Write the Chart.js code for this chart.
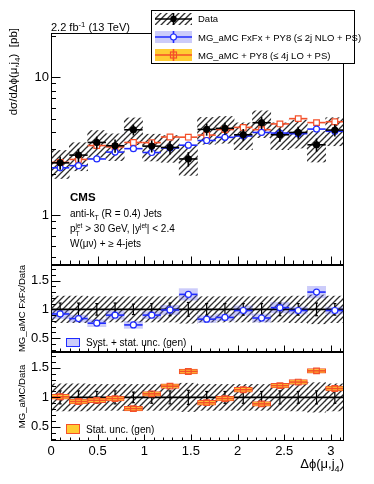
<!DOCTYPE html>
<html>
<head>
<meta charset="utf-8">
<title>dsigma/dDeltaphi(mu,j4)</title>
<script src="https://cdn.jsdelivr.net/npm/chart.js@4.4.0/dist/chart.umd.min.js"></script>
<style>
  body { margin: 0; background: #fff; }
  #wrap { position: relative; width: 374px; height: 484px; }
  #wrap canvas { position: absolute; left: 0; top: 0; }
</style>
</head>
<body>
<div id="wrap">
  <canvas id="main" width="374" height="484"></canvas>
  <canvas id="r1" width="374" height="484"></canvas>
  <canvas id="r2" width="374" height="484"></canvas>
</div>
<script>
var FONT = '"Liberation Sans", Arial, Helvetica, sans-serif';

// 16 bins in delta phi(mu, j4)
var binEdges = [0, 0.196, 0.393, 0.589, 0.785, 0.982, 1.178, 1.374, 1.571, 1.767, 1.963, 2.160, 2.356, 2.553, 2.749, 2.945, 3.1416];
var xTicks = [0, 0.5, 1, 1.5, 2, 2.5, 3];
var yMainTicks = [1, 10];
var yRatioTicks = [0.5, 1, 1.5];

// measured cross section [pb] and relative uncertainties
var dataXs = [2.39, 2.72, 3.36, 3.18, 4.15, 3.16, 3.09, 2.55, 4.18, 4.25, 3.82, 4.67, 3.82, 3.97, 3.23, 4.13];
var dataStat = [0.11, 0.11, 0.10, 0.11, 0.09, 0.10, 0.11, 0.12, 0.10, 0.10, 0.10, 0.10, 0.11, 0.10, 0.11, 0.10];
var dataSyst = [0.23, 0.23, 0.22, 0.22, 0.22, 0.22, 0.22, 0.24, 0.22, 0.22, 0.22, 0.22, 0.22, 0.23, 0.25, 0.23];

// predictions [pb]
var fxfxXs = [2.20, 2.28, 2.55, 2.86, 3.03, 2.84, 3.06, 3.21, 3.47, 3.66, 3.74, 3.97, 3.93, 3.89, 4.20, 4.05];
var loXs = [2.41, 2.53, 3.19, 3.12, 3.36, 3.35, 3.68, 3.67, 3.80, 4.17, 4.32, 4.16, 4.58, 5.00, 4.68, 4.75];

// ratios to data
var fxfxRatio = [0.92, 0.84, 0.76, 0.90, 0.73, 0.90, 0.99, 1.26, 0.83, 0.86, 0.98, 0.85, 1.03, 0.98, 1.30, 0.98];
var fxfxRatioUnc = [0.08, 0.06, 0.06, 0.07, 0.06, 0.06, 0.08, 0.10, 0.06, 0.06, 0.08, 0.07, 0.09, 0.06, 0.10, 0.06];
var loRatio = [1.01, 0.93, 0.95, 0.98, 0.81, 1.06, 1.19, 1.44, 0.91, 0.98, 1.13, 0.89, 1.20, 1.26, 1.45, 1.15];
var loRatioUnc = [0.04, 0.04, 0.04, 0.04, 0.04, 0.04, 0.04, 0.04, 0.04, 0.04, 0.04, 0.04, 0.04, 0.04, 0.04, 0.04];

var BLUE = '#1f2bff', ORANGE = '#f4502a', YELLOW = '#ffcc33', BAND = 'rgba(95,95,240,0.32)';

var centers = binEdges.slice(0, -1).map(function (e, i) { return (e + binEdges[i + 1]) / 2; });
function pts(vals) { return vals.map(function (v, i) { return {x: centers[i], y: v}; }); }
function relBand(vals, rel) { return vals.map(function (v, i) { return {x: centers[i], y: [v * (1 - rel[i]), v * (1 + rel[i])]}; }); }
function absBand(vals, unc) { return vals.map(function (v, i) { return {x: centers[i], y: [v - unc[i], v + unc[i]]}; }); }

function hatch(ctx) {
  var c = document.createElement('canvas');
  c.width = 6; c.height = 6;
  var g = c.getContext('2d');
  g.strokeStyle = '#2e2e2e'; g.lineWidth = 1.3;
  g.beginPath();
  g.moveTo(0, 6); g.lineTo(6, 0);
  g.moveTo(-1, 1); g.lineTo(1, -1);
  g.moveTo(5, 7); g.lineTo(7, 5);
  g.stroke();
  return ctx.createPattern(c, 'repeat');
}

function line(ctx, x1, y1, x2, y2) {
  ctx.beginPath(); ctx.moveTo(x1, y1); ctx.lineTo(x2, y2); ctx.stroke();
}

// text with sub/superscripts: segs = [{t, dy, s, noAdv}]
function richWidth(ctx, segs, size, weight) {
  var w = 0;
  segs.forEach(function (s) {
    ctx.font = (weight || '') + ' ' + size * (s.s || 1) + 'px ' + FONT;
    if (!s.noAdv) w += ctx.measureText(s.t).width;
  });
  return w;
}
function rich(ctx, x, y, segs, size, weight) {
  segs.forEach(function (s) {
    ctx.font = (weight || '') + ' ' + size * (s.s || 1) + 'px ' + FONT;
    ctx.fillText(s.t, x, y + (s.dy || 0) * size);
    if (!s.noAdv) x += ctx.measureText(s.t).width;
  });
}

// error bars and bin-wide horizontal lines, drawn just before the markers
var errBars = {
  id: 'errBars',
  beforeDatasetDraw: function (chart, args) {
    var ds = chart.data.datasets[args.index];
    if (!ds.lineColor) return;
    var ctx = chart.ctx, x = chart.scales.x, y = chart.scales.y;
    ctx.save();
    ctx.strokeStyle = ds.lineColor;
    ctx.lineWidth = ds.lineW;
    ds.data.forEach(function (p, i) {
      var py = y.getPixelForValue(p.y), px = x.getPixelForValue(p.x);
      if (ds.hbar) line(ctx, x.getPixelForValue(binEdges[i]), py, x.getPixelForValue(binEdges[i + 1]), py);
      if (ds.vbar) {
        var lo = y.getPixelForValue(ds.vbar[i][0]), hi = y.getPixelForValue(ds.vbar[i][1]);
        line(ctx, px, lo, px, hi);
        if (ds.cap) { line(ctx, px - ds.cap, lo, px + ds.cap, lo); line(ctx, px - ds.cap, hi, px + ds.cap, hi); }
      }
    });
    ctx.restore();
  }
};

function drawFrame(chart, yMaj, yMin, L) {
  var ctx = chart.ctx, a = chart.chartArea, x = chart.scales.x, y = chart.scales.y;
  ctx.save();
  ctx.strokeStyle = '#000'; ctx.lineWidth = 1;
  var l = Math.round(a.left) + 0.5, r = Math.round(a.right) - 0.5, t = Math.round(a.top) + 0.5, b = Math.round(a.bottom) - 0.5;
  ctx.strokeRect(l, t, r - l, b - t);
  for (var k = 0; k <= 31; k++) {
    var px = Math.round(x.getPixelForValue(k / 10)) + 0.5;
    line(ctx, px, b, px, b - (k % 5 === 0 ? L.xMaj : L.xMin));
  }
  yMaj.forEach(function (v) { var py = Math.round(y.getPixelForValue(v)) + 0.5; line(ctx, l, py, l + L.yMaj, py); });
  yMin.forEach(function (v) { var py = Math.round(y.getPixelForValue(v)) + 0.5; line(ctx, l, py, l + L.yMin, py); });
  ctx.restore();
}

function yAxis(type, min, max, ticks) {
  return {
    type: type, min: min, max: max,
    grid: {display: false, drawTicks: false}, border: {display: false},
    afterFit: function (s) { s.width = 51; },
    afterBuildTicks: function (s) { s.ticks = ticks.map(function (v) { return {value: v}; }); },
    ticks: {font: {family: FONT, size: 13}, color: '#000', padding: 2, callback: function (v) { return String(v); }}
  };
}

function options(top, bottom, yScale, showX) {
  return {
    responsive: false, animation: false, events: [],
    layout: {padding: {left: 0, right: 30, top: top, bottom: bottom}},
    plugins: {legend: {display: false}, tooltip: {enabled: false}},
    scales: {
      x: {
        type: 'linear', min: 0, max: Math.PI, offset: false, display: showX,
        grid: {display: false, drawTicks: false}, border: {display: false},
        afterBuildTicks: function (s) { s.ticks = xTicks.map(function (v) { return {value: v}; }); },
        afterFit: function (s) { s.height = showX ? 43 : 0; },
        ticks: {font: {family: FONT, size: 13}, color: '#000', padding: 3, maxRotation: 0, autoSkip: false,
                callback: function (v) { return String(v); }}
      },
      y: yScale
    }
  };
}

var barOpts = {type: 'bar', grouped: false, barPercentage: 1, categoryPercentage: 1, borderWidth: 0};
function bars(data, bg, order, extra) {
  return Object.assign({}, barOpts, {data: data, backgroundColor: bg, order: order}, extra || {});
}

// ---------- main panel ----------
var mainCtx = document.getElementById('main').getContext('2d');
var mainMinor = [0.5, 0.6, 0.7, 0.8, 0.9, 2, 3, 4, 5, 6, 7, 8, 9, 20];

new Chart(mainCtx, {
  type: 'bar',
  data: {
    datasets: [
      bars(relBand(dataXs, dataSyst), hatch(mainCtx), 10),
      {type: 'scatter', data: pts(loXs), order: 3, pointStyle: 'rect', pointRadius: 4,
       pointBackgroundColor: '#fff', pointBorderColor: ORANGE, pointBorderWidth: 1.2,
       lineColor: ORANGE, lineW: 1.6, hbar: true},
      {type: 'scatter', data: pts(fxfxXs), order: 2, pointStyle: 'circle', pointRadius: 3,
       pointBackgroundColor: '#fff', pointBorderColor: BLUE, pointBorderWidth: 1.2,
       lineColor: BLUE, lineW: 1.6, hbar: true},
      {type: 'scatter', data: pts(dataXs), order: 1, pointStyle: 'circle', pointRadius: 3.2,
       pointBackgroundColor: '#000', pointBorderColor: '#000',
       lineColor: '#000', lineW: 1.6, hbar: true,
       vbar: dataXs.map(function (v, i) { return [v * (1 - dataStat[i]), v * (1 + dataStat[i])]; })}
    ]
  },
  options: options(33, 219, yAxis('logarithmic', 0.434, 20.9, yMainTicks), false),
  plugins: [errBars, {
    id: 'mainDeco',
    afterDraw: function (chart) {
      var ctx = chart.ctx;
      drawFrame(chart, yMainTicks, mainMinor, {xMaj: 8, xMin: 4, yMaj: 9, yMin: 4.5});
      ctx.save();
      ctx.fillStyle = '#000';
      ctx.textBaseline = 'alphabetic';
      rich(ctx, 51, 31, [{t: '2.2 fb'}, {t: '-1', dy: -0.4, s: 0.7}, {t: ' (13 TeV)'}], 11);
      rich(ctx, 70, 201, [{t: 'CMS'}], 11.5, 'bold');
      rich(ctx, 70, 217, [{t: 'anti-k'}, {t: 'T', dy: 0.3, s: 0.7}, {t: ' (R = 0.4) Jets'}], 10);
      rich(ctx, 70, 232, [{t: 'p'}, {t: 'T', dy: 0.35, s: 0.65, noAdv: true}, {t: 'jet', dy: -0.45, s: 0.65},
                          {t: ' > 30 GeV, |y'}, {t: 'jet', dy: -0.45, s: 0.65}, {t: '| < 2.4'}], 10);
      rich(ctx, 70, 247, [{t: 'W(\u03bc\u03bd) + \u2265 4-jets'}], 10);

      // y title, rotated, aligned to the top of the axis
      var ys = [{t: 'd\u03c3/d\u0394\u03d5(\u03bc,j'}, {t: '4', dy: 0.3, s: 0.7}, {t: ')  [pb]'}];
      ctx.save();
      ctx.translate(16.5, 28);
      ctx.rotate(-Math.PI / 2);
      rich(ctx, -richWidth(ctx, ys, 11.5), 0, ys, 11.5);
      ctx.restore();

      // legend
      ctx.fillStyle = '#fff';
      ctx.fillRect(151, 10, 204, 54);
      ctx.strokeStyle = '#000'; ctx.lineWidth = 1;
      ctx.strokeRect(151.5, 10.5, 203, 53);

      ctx.fillStyle = hatch(ctx);
      ctx.fillRect(155, 13, 37, 12);
      ctx.strokeStyle = '#000'; ctx.lineWidth = 1.6;
      line(ctx, 155, 19, 192, 19); line(ctx, 173.5, 13, 173.5, 25);
      ctx.fillStyle = '#000';
      ctx.beginPath(); ctx.arc(173.5, 19, 3.2, 0, 2 * Math.PI); ctx.fill();

      ctx.fillStyle = BAND;
      ctx.fillRect(155, 31, 37, 12);
      ctx.strokeStyle = BLUE; ctx.lineWidth = 1.6;
      line(ctx, 155, 37, 192, 37); line(ctx, 173.5, 31, 173.5, 43);
      ctx.fillStyle = '#fff'; ctx.lineWidth = 1.2;
      ctx.beginPath(); ctx.arc(173.5, 37, 3, 0, 2 * Math.PI); ctx.fill(); ctx.stroke();

      ctx.fillStyle = YELLOW;
      ctx.fillRect(155, 49, 37, 12);
      ctx.strokeStyle = ORANGE; ctx.lineWidth = 1.6;
      line(ctx, 155, 55, 192, 55); line(ctx, 173.5, 49, 173.5, 61);
      ctx.lineWidth = 1.2;
      ctx.strokeRect(170.5, 52, 6, 6);

      ctx.fillStyle = '#000';
      rich(ctx, 198, 22, [{t: 'Data'}], 9.5);
      rich(ctx, 198, 40.5, [{t: 'MG_aMC FxFx + PY8 (\u2264 2j NLO + PS)'}], 9.5);
      rich(ctx, 198, 58.5, [{t: 'MG_aMC + PY8 (\u2264 4j LO + PS)'}], 9.5);
      ctx.restore();
    }
  }]
});

// ---------- ratio panels ----------
var ratioMinor = [];
for (var k = 3; k <= 17; k++) { if (k % 5 !== 0) ratioMinor.push(k / 10); }
var ones = dataXs.map(function () { return 1; });

function ratioTitle(ctx, text, cy) {
  var segs = [{t: text}];
  ctx.save();
  ctx.fillStyle = '#000';
  ctx.translate(25, cy);
  ctx.rotate(-Math.PI / 2);
  rich(ctx, -richWidth(ctx, segs, 9.5) / 2, 0, segs, 9.5);
  ctx.restore();
}
function unityLine(chart) {
  var ctx = chart.ctx, a = chart.chartArea, py = chart.scales.y.getPixelForValue(1);
  ctx.save(); ctx.strokeStyle = '#000'; ctx.lineWidth = 1.6;
  line(ctx, a.left, py, a.right, py);
  ctx.restore();
}
var dataAtOne = {type: 'scatter', data: pts(ones), pointRadius: 0, lineColor: '#000', lineW: 1.2, cap: 1.5,
                 vbar: ones.map(function (v, i) { return [v - dataStat[i], v + dataStat[i]]; })};

var r1Ctx = document.getElementById('r1').getContext('2d');
new Chart(r1Ctx, {
  type: 'bar',
  data: {
    datasets: [
      bars(relBand(ones, dataSyst), hatch(r1Ctx), 10),
      bars(absBand(fxfxRatio, fxfxRatioUnc), BAND, 8),
      Object.assign({order: 5}, dataAtOne),
      {type: 'scatter', data: pts(fxfxRatio), order: 1, pointStyle: 'circle', pointRadius: 3,
       pointBackgroundColor: '#fff', pointBorderColor: BLUE, pointBorderWidth: 1.2,
       lineColor: BLUE, lineW: 1.6, hbar: true}
    ]
  },
  options: options(265, 132, yAxis('linear', 0.26, 1.77, yRatioTicks), false),
  plugins: [errBars, {
    id: 'r1Deco',
    afterDatasetDraw: function (chart, args) { if (args.index === 1) unityLine(chart); },
    afterDraw: function (chart) {
      var ctx = chart.ctx;
      drawFrame(chart, yRatioTicks, ratioMinor, {xMaj: 6, xMin: 3, yMaj: 9, yMin: 4.5});
      ratioTitle(ctx, 'MG_aMC FxFx/Data', 308.5);
      ctx.save();
      ctx.fillStyle = 'rgba(95,95,240,0.32)';
      ctx.fillRect(66, 338, 14, 9);
      ctx.strokeStyle = BLUE; ctx.lineWidth = 1;
      ctx.strokeRect(66.5, 338.5, 13, 8);
      ctx.fillStyle = '#000';
      rich(ctx, 86, 346, [{t: 'Syst. + stat. unc. (gen)'}], 10);
      ctx.restore();
    }
  }]
});

var r2Ctx = document.getElementById('r2').getContext('2d');
new Chart(r2Ctx, {
  type: 'bar',
  data: {
    datasets: [
      bars(relBand(ones, dataSyst), hatch(r2Ctx), 10),
      Object.assign({order: 6}, dataAtOne),
      bars(absBand(loRatio, loRatioUnc), YELLOW, 4, {borderWidth: 1, borderColor: ORANGE, borderSkipped: false}),
      {type: 'scatter', data: pts(loRatio), order: 1, pointStyle: 'rect', pointRadius: 4,
       pointBackgroundColor: 'rgba(0,0,0,0)', pointBorderColor: ORANGE, pointBorderWidth: 1.2,
       lineColor: ORANGE, lineW: 1.6, hbar: true}
    ]
  },
  options: options(352, 0, yAxis('linear', 0.26, 1.77, yRatioTicks), true),
  plugins: [errBars, {
    id: 'r2Deco',
    afterDatasetDraw: function (chart, args) { if (args.index === 0) unityLine(chart); },
    afterDraw: function (chart) {
      var ctx = chart.ctx;
      drawFrame(chart, yRatioTicks, ratioMinor, {xMaj: 6, xMin: 3, yMaj: 9, yMin: 4.5});
      ratioTitle(ctx, 'MG_aMC/Data', 396.5);
      ctx.save();
      ctx.fillStyle = YELLOW;
      ctx.fillRect(66, 424, 14, 10);
      ctx.strokeStyle = ORANGE; ctx.lineWidth = 1;
      ctx.strokeRect(66.5, 424.5, 13, 9);
      ctx.fillStyle = '#000';
      rich(ctx, 86, 432.5, [{t: 'Stat. unc. (gen)'}], 10);
      var xs = [{t: '\u0394\u03d5(\u03bc,j'}, {t: '4', dy: 0.3, s: 0.7}, {t: ')'}];
      rich(ctx, 344 - richWidth(ctx, xs, 13), 468, xs, 13);
      ctx.restore();
    }
  }]
});
</script>
</body>
</html>
